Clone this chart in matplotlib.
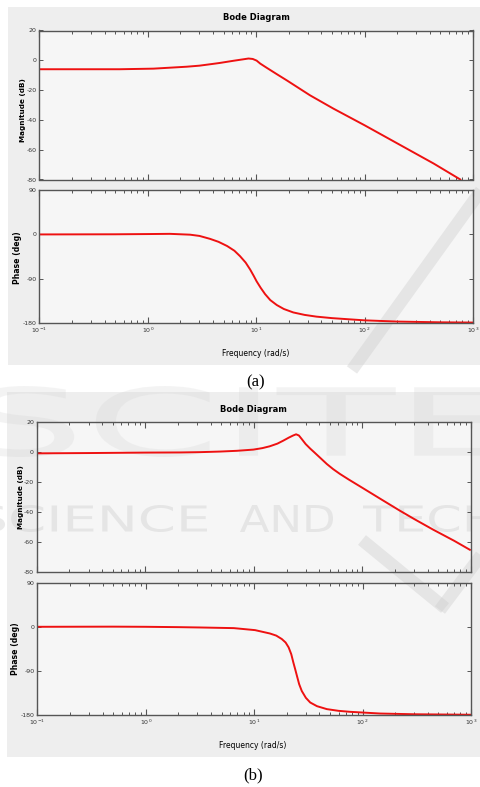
import matplotlib
matplotlib.use("Agg")
import matplotlib.pyplot as plt
from matplotlib.patches import Rectangle, PathPatch
from matplotlib.textpath import TextPath
from matplotlib.font_manager import FontProperties
from matplotlib.lines import Line2D
import matplotlib.transforms as mtransforms
from matplotlib.ticker import LogLocator, NullLocator, NullFormatter

plt.rcParams['axes.unicode_minus'] = False

# values: (a)
freq_mag_a = [0.1, 0.3, 0.55, 1.13, 2.29, 3.0, 4.0, 4.6, 6.2, 7.5, 8.5, 9.3, 10.1, 10.9,
              12.5, 15.5, 19.2, 31.4, 51.5, 100, 215, 434, 764]
mag_a = [-6.0, -6.0, -6.0, -5.6, -4.3, -3.6, -2.4, -1.8, -0.3, 0.6, 1.2, 0.9, -0.2, -2.2,
         -5.0, -9.3, -13.5, -23.5, -32.4, -43.6, -57.0, -69.3, -80.0]
freq_ph_a = [0.1, 0.5, 1.05, 1.6, 2.46, 3.0, 3.76, 4.5, 5.4, 6.3, 7.1, 8.0, 8.8, 9.5, 10.1,
             11, 12.1, 13.5, 15.5, 18, 22, 28, 36, 50, 73, 100, 200, 500, 1000]
ph_a = [0, 0.3, 0.8, 1.2, -0.5, -3, -9, -15, -23.5, -33, -44, -57, -71, -84, -95,
        -108, -121, -133, -143, -151, -158, -163, -166.5, -169.5, -172, -174, -176.5, -178, -178.5]

# values: (b)
freq_mag_b = [0.1, 0.3, 1.0, 2.1, 3.2, 4.9, 7.0, 9.9, 12, 14, 16.5, 18.7, 21, 23, 24.5, 26,
              27.5, 30, 33, 36, 42, 47, 53.7, 62, 75, 100, 150, 221, 300, 449, 700, 977]
mag_b = [-0.7, -0.5, -0.2, -0.1, 0.1, 0.5, 1.0, 1.8, 2.8, 4.0, 5.8, 7.8, 9.8, 11.2, 12.0, 11.2,
         9.0, 5.5, 2.5, 0.0, -4.5, -7.8, -11.2, -14.4, -18.2, -23.7, -31.5, -38.9, -44.5, -51.6,
         -59.0, -65.0]
freq_ph_b = [0.1, 0.5, 1.0, 2.0, 3.2, 6.5, 10.2, 14, 16, 18, 19.5, 20.8, 22, 23, 24, 24.8, 26,
             27.5, 30, 32.9, 38, 46.8, 60, 76.7, 145, 300, 1000]
ph_b = [0, 0.3, 0, -0.7, -1.4, -2.7, -6.8, -13.7, -18, -25, -32, -42, -56, -73, -88, -100, -117,
        -131, -145, -154.5, -162, -168, -171.5, -173.5, -177, -178.5, -179.5]

mag_ticks = [20, 0, -20, -40, -60, -80]
ph_ticks = [90, 0, -90, -180]
xlabels = ['Frequency (rad/s)', 'Frequency (rad/s)']
captions = ['(a)', '(b)']

W, H = 481, 787
fig = plt.figure(figsize=(W / 100, H / 100), dpi=100)
fig.patch.set_facecolor('white')

narrow = ['Liberation Sans Narrow', 'DejaVu Sans']


def box(l, t, r, b):
    return [l / W, 1 - b / H, (r - l) / W, (b - t) / H]


def fx(x):
    return x / W


def fy(y):
    return 1 - y / H


def rect(l, t, r, b, color, z):
    fig.patches.append(Rectangle((fx(l), fy(b)), (r - l) / W, (b - t) / H,
                                 transform=fig.transFigure, facecolor=color,
                                 edgecolor='none', zorder=z))


def style_axes(ax, yticks, ylim, show_x):
    ax.set_zorder(3)
    ax.patch.set_visible(False)
    ax.set_xscale('log')
    ax.set_xlim(0.1, 1000)
    ax.set_ylim(*ylim)
    ax.set_yticks(yticks)
    ax.set_yticklabels([str(t) for t in yticks])
    ax.yaxis.set_minor_locator(NullLocator())
    ax.xaxis.set_major_locator(LogLocator(base=10, numticks=10))
    ax.xaxis.set_minor_locator(LogLocator(base=10, subs=range(2, 10), numticks=10))
    ax.xaxis.set_minor_formatter(NullFormatter())
    for s in ax.spines.values():
        s.set_color('#555555')
        s.set_linewidth(1.0)
    ax.tick_params(which='both', direction='in', top=True, right=True,
                   color='#555555', labelsize=4.5, pad=2, labelcolor='#333333')
    ax.tick_params(axis='x', which='major', length=4.5, width=0.8)
    ax.tick_params(axis='x', which='minor', length=2.3, width=0.7)
    ax.tick_params(axis='y', which='major', length=3, width=0.7)
    if not show_x:
        ax.tick_params(labelbottom=False)


def bode(panel, axes_boxes, fm, m, fp, p, texts):
    rect(*panel, '#eeeeee', 0)
    (ml, mt, mr, mb), (pl, pt, pr, pb) = axes_boxes
    rect(ml, mt, mr, mb, '#f6f6f6', 0.5)
    rect(pl, pt, pr, pb, '#f6f6f6', 0.5)
    axm = fig.add_axes(box(ml, mt, mr, mb))
    style_axes(axm, mag_ticks, (-80, 20), False)
    axm.plot(fm, m, color='#ee1111', lw=1.4)
    axp = fig.add_axes(box(pl, pt, pr, pb))
    style_axes(axp, ph_ticks, (-180, 90), True)
    axp.plot(fp, p, color='#ee1111', lw=1.4)
    title_xy, mag_xy, ph_xy, xl_xy, cap_xy, xl, cap = texts
    fig.text(fx(title_xy[0]), fy(title_xy[1]), 'Bode Diagram', ha='center', va='center',
             fontsize=6, fontweight='bold', family=narrow, zorder=5)
    fig.text(fx(mag_xy[0]), fy(mag_xy[1]), 'Magnitude (dB)', ha='center', va='center',
             rotation=90, fontsize=5.2, fontweight='bold', family=narrow, zorder=5)
    fig.text(fx(ph_xy[0]), fy(ph_xy[1]), 'Phase (deg)', ha='center', va='center',
             rotation=90, fontsize=5.6, fontweight='bold', family='DejaVu Sans', zorder=5)
    fig.text(fx(xl_xy[0]), fy(xl_xy[1]), xl, ha='center', va='center',
             fontsize=5.5, family=narrow, zorder=5)
    fig.text(fx(cap_xy[0]), fy(cap_xy[1]), cap, ha='center', va='center',
             fontsize=12, family=['Liberation Serif', 'DejaVu Serif'], zorder=5)


bode((8, 7, 481, 365), ((39.3, 30.5, 473, 179.5), (39.3, 190, 473, 323.3)),
     freq_mag_a, mag_a, freq_ph_a, ph_a,
     ((256, 17), (23, 110), (18, 258), (256, 353), (256, 382), xlabels[0], captions[0]))
bode((7, 392, 481, 757), ((36.7, 422.3, 471, 572.3), (37.3, 582.7, 471, 715)),
     freq_mag_b, mag_b, freq_ph_b, ph_b,
     ((253, 409), (21, 497), (16, 649), (253, 745), (253, 775), xlabels[1], captions[1]))

# publisher watermark, faint, under the curves
wm_color = '#cccccc'


def wm_word(s, l, t, r, b, alpha, bold=False):
    prop = FontProperties(family='DejaVu Sans', weight='bold' if bold else 'normal')
    tp = TextPath((0, 0), s, size=100, prop=prop)
    ext = tp.get_extents()
    sx = (r - l) / ext.width
    sy = (b - t) / ext.height
    tr = (mtransforms.Affine2D().translate(-ext.x0, -ext.y0).scale(sx, sy)
          .translate(l, H - b) + mtransforms.IdentityTransform())
    fig.add_artist(PathPatch(tp, transform=tr, facecolor=wm_color, edgecolor='none',
                             alpha=alpha, zorder=1))


wm_word('SCIENCE', -23, 505, 207, 532, 0.4)
wm_word('AND', 240, 505, 333, 532, 0.4)
wm_word('TECH', 363, 505, 495, 532, 0.4)
wm_word('SCITE', -25, 386, 505, 457, 0.22)


def wm_stroke(x0, y0, x1, y1):
    fig.add_artist(Line2D([fx(x0), fx(x1)], [fy(y0), fy(y1)], transform=fig.transFigure,
                          color=wm_color, lw=9, alpha=0.4, solid_capstyle='butt', zorder=1))


wm_stroke(352, 370, 485, 185)
wm_stroke(362, 540, 445, 608)
wm_stroke(440, 610, 485, 550)

fig.savefig('out.png', dpi=100)
